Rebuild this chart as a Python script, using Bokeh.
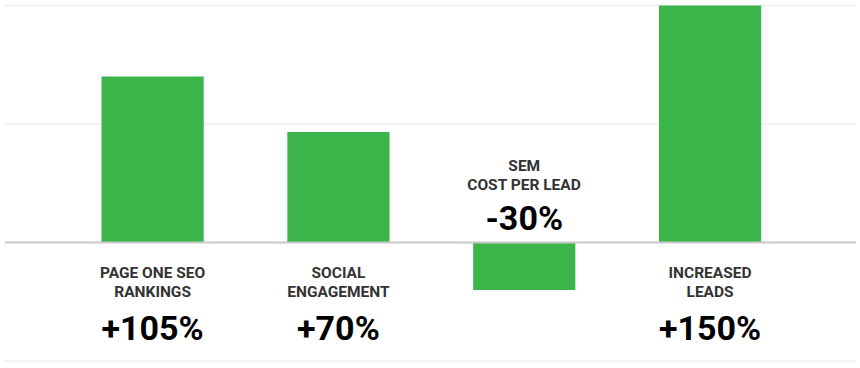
from bokeh.plotting import figure
from bokeh.models import Range1d, Span, ColumnDataSource
from bokeh.core.properties import value
from bokeh.embed import file_html
from bokeh.resources import INLINE

# Data
label_line1 = ["PAGE ONE SEO", "SOCIAL", "SEM", "INCREASED"]
label_line2 = ["RANKINGS", "ENGAGEMENT", "COST PER LEAD", "LEADS"]
values = [105, 70, -30, 150]
value_labels = ["+105%", "+70%", "-30%", "+150%"]
grid_values = [-75, 75, 150]

GREEN = "#3bb54a"
TEXT = "#333333"

xs = list(range(len(values)))
pos = [v >= 0 for v in values]

src = ColumnDataSource(dict(
    x=xs, top=values, l1=label_line1, l2=label_line2, vl=value_labels,
    zero=[0] * len(values),
    off1=[30 if p else -77 for p in pos],
    off2=[49 if p else -58 for p in pos],
    off3=[85 if p else -25 for p in pos],
))

p = figure(width=856, height=364, output_backend="svg", toolbar_location=None,
           x_range=Range1d(-0.797, 3.788), y_range=Range1d(-77.2, 151.27),
           x_axis_location=None, y_axis_location=None,
           min_border_left=4, min_border_right=0, min_border_top=3, min_border_bottom=0)
p.outline_line_color = None
p.xgrid.visible = False
p.ygrid.visible = False
p.grid.visible = False
p.background_fill_color = "white"
p.border_fill_color = "white"

for g in grid_values:
    p.add_layout(Span(location=g, dimension="width", line_color="#efefef", line_width=1.5, level="underlay"))

p.vbar(x="x", top="top", bottom=0, width=0.55, source=src, fill_color=GREEN, line_color=None)

p.add_layout(Span(location=0, dimension="width", line_color="#c8c8c8", line_width=2))

p.text(x="x", y="zero", text="l1", y_offset="off1", source=src,
       text_font=value("Roboto"), text_font_style="bold", text_font_size="15.5px",
       text_color=TEXT, text_align="center", text_baseline="middle")
p.text(x="x", y="zero", text="l2", y_offset="off2", source=src,
       text_font=value("Roboto"), text_font_style="bold", text_font_size="15.5px",
       text_color=TEXT, text_align="center", text_baseline="middle")
p.text(x="x", y="zero", text="vl", y_offset="off3", source=src,
       text_font=value("Roboto"), text_font_style="bold", text_font_size="34px",
       text_color="#000000", text_align="center", text_baseline="middle")

open("out.html", "w").write(file_html(p, INLINE))
